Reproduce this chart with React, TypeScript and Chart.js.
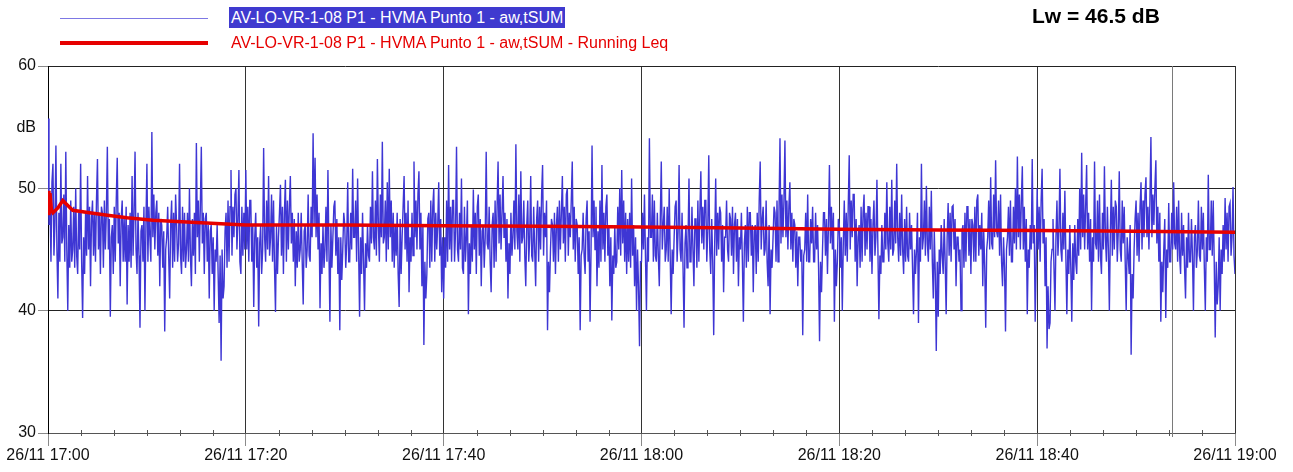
import { useEffect, useRef } from 'react';
import { Chart, registerables } from 'chart.js';

Chart.register(...registerables);

// ---- data ----
const sampleStepSec = 6;
const segmentStartSec = [0, 1200, 2400, 3600, 4800, 6000];

const levels1700 = [
  55.7,47,49,44,50.5, 52,44.5,47,53.5,45, 41,48,44,52,45.5, 46,49.5,44,53,45,
  40,47,43.5,49,44, 45,48.5,43.5,50,44.5, 43,48,45,52,44, 39.4,46,43,48,44.5,
  51,45,48.5,42,47.5, 49,44.5,48,44,49, 52.4,45,48,43,48.5, 48,43.5,49,45,48,
  53.4,45,47.5,39.5,46, 47,43,48.5,44,49, 52.5,45.5,48,42,47.5, 49,44,47.5,44,48.5,
  40.5,47,44,48,43.5, 51,44.5,48,53,45, 43,48,44.5,38.6,46.5, 47,44,48.5,40,47,
  52,44,48.5,46,44, 54.6,46,49.5,45,48, 49,44.5,48,42,47.5, 47,43.5,46.5,38.3,45,
  46,48.5,44.5,41,47, 49,43.5,48,44,49.5, 47,44,45.5,52,44.5, 43,48.5,44,48,43.5,
  45,48,44,50,44.5, 42,47.5,44.5,48,43, 53.7,46,49,44,48.5, 53.4,45.5,48,43,47.5,
  48,44,47,41,46.5, 47,43,46,40,45, 44,47,43,39,44.5, 35.9,45,41,42,46.5,
  48,43.5,49,44,48.5, 51.5,44.5,48.5,46,49.5, 50,45,47.5,51.5,44, 43,48.5,44.5,48,45,
];
const levels1720 = [
  51.5,45,48.5,44,49, 49,44,47,40.3,46, 48,43.5,46,38.7,45.5, 47,43,45,53.3,46,
  44,49,45,51,44.5, 46,49.5,44,49,43.5, 39.9,47,43,46,48, 50.3,44.5,48.5,43,48,
  50.7,44,49,45,48.5, 51,45.5,48,44,47.5, 42,46.5,43.5,48,44, 45,48,44,40.5,46.5,
  47,43.5,45,49.5,44.5, 44,48.5,46,54.5,47, 52.5,46,49.5,45,48, 40.2,45.5,43,47,43.5,
  45,48.5,44,51.5,45, 39.1,47,43.5,46,48.5, 49,44.5,47.5,43,46, 38.4,46,42.5,45,48,
  47,43.5,45.5,50.5,44, 44,48,45,51.6,46, 46,49,44,50.8,45, 39.5,46,43,48,44,
  40,45.5,43.5,47,44.5, 44,48.5,45.5,51.4,46, 45,49,44.5,52.4,47, 44,49.5,46,53.8,45.5,
  46,49,44,50.5,45, 51.6,46,49,44,48, 43.5,47,44.5,48,43, 40.3,47.5,43,46,48.5,
  51,45,48,44,49, 41.5,46,44,48,44.5, 52.2,46,49,45,49.5, 51.4,45,48,42,47,
  37.2,44,41,43,47.5, 48,43.5,49,44,48.5, 50,44,48,45,47, 50.5,44.5,47.5,41.5,46,
];
const levels1740 = [
  41,46,43.5,49,44, 51.9,45,48.5,44,49, 49,44,46.5,53.4,45, 44,48,45,50.8,43.5,
  43,48.5,44,46,49, 39.7,45.5,43,47,44, 49.9,45,48,43,48.5, 49.5,44.5,47.5,42,46.5,
  47,43.5,46,53,45.5, 45,48.5,44,41.5,47, 48,43.5,49,44,48.5, 52.2,45.5,49.5,45,48,
  51,46,48,44,47.5, 41,45.5,43,48,44.5, 46,49,45,53.6,46.5, 45,49.5,44,51.4,45.5,
  46,49,44.5,42,47, 49,44,46,51,44.5, 44,48.5,45,42,47.5, 49,44,48.5,45,49.5,
  51.9,44.5,48,46,49, 38.4,44,41.5,45,47.5, 47,44,48,43,47, 48.5,44,49,45,48,
  51,45.5,48.5,44,49.5, 50,44.5,48,46,49, 52.2,45,48.5,44,47.5, 47,43,46,38.4,44.5,
  45,48,44.5,43,47.5, 49,44,46.5,39.1,45, 53.5,46,49,45,48.5, 42,46.5,43.5,49,44,
  51.9,45,48,44,48.5, 49.5,44.5,47,42,46, 39.2,44.5,43,47,43.5, 44,48.5,45,50,44.5,
  51.5,45.5,49,44,48, 43,47.5,44,48,43.5, 50.8,44.5,47,42,46, 40,45,42,37.1,44,
];
const levels1800 = [
  44,48,45,49.5,44.5, 40,46,44,54.1,46, 46,49.5,44,49,44.5, 44,48,44.5,42,47.5,
  52.2,45,47,48.5,44, 45,48.5,44,50,44.5, 39.7,45,43,46,48.5, 49,44,46.5,51.9,45,
  44,48,43.5,38.6,45.5, 47,43.5,45.5,50.8,44, 44,48.5,45,42,47.5, 47.5,43.5,49,44,48,
  51.4,45.5,48.5,45,49, 49,44,46.5,52.7,45, 43,47.5,44,38,45.5, 50.8,44.5,48,45,48.5,
  48,44,47,41.5,46, 46,49,45,44,48, 47.5,44.5,48.5,43,47, 48,44,47.5,42,46,
  45,48,44,39.1,45.5, 47,43.5,48.5,44,48, 48,44.5,47,41.5,46.5, 47,43,48,44,49,
  52.2,45,47.5,48.5,44.5, 45,49,44,42,47, 39.7,45,43.5,46,48.5, 48,44,49,44,48,
  54.1,45.5,49.5,46,49, 53.9,46,49,45,48.5, 50.5,45,48,44,47.5, 47,43.5,46.5,42,46,
  46,44,45,38,44.5, 45,48,44,49.5,44, 44,47.5,45.5,48.5,44, 44,48,45,47,43.5,
  37.5,44,41.5,45,48, 48,44.5,47.5,43,47, 51.9,45.5,48.5,45,48, 39.1,45,42,44,47.5,
];
const levels1820 = [
  47,43.5,46,40,45.5, 49,44.5,48,44,48.5, 52.7,45,49,46,49.5, 49.5,44,47.5,42,46,
  47,43.5,48.5,44,48, 49.5,44.5,48,45,48.5, 48.5,44,47.5,43,47, 49,44.5,46,50.7,45,
  39.3,44.5,43,47,44, 44,48,45,50.5,45.5, 44,48.5,45,50.7,44.5, 45,49,45.5,52,46,
  44,48,44.5,49.5,45, 43,47.5,44,48.5,44.5, 44,48,45,47,43.5, 39.7,45,43,45,48,
  39,46,44,52,45, 46,49,44.5,50.2,45.5, 44,48.5,45,49.8,44, 41,46.5,43,36.7,44,
  39.5,45,43,47,44.5, 43,47.5,44,39.7,46, 48.8,44.5,48,44,48.5, 48.6,45,47.5,42,46,
  46,44,45,40,46.5, 47,43.5,48,44,48.5, 48.5,44.5,47.5,43,47.5, 47,44,48.5,44,49,
  49.5,44.5,47,45,48, 42,46.5,43.5,38.6,45, 46,49,45,50.9,45.5, 45,49.5,46,52.3,46.5,
  46,49,44.5,49.5,44, 42,46,43.5,38.3,45, 46,48.5,44.5,49,44, 44,48.5,45.5,50,45,
  52.6,46,49.5,45,49, 51.8,45,48.5,44,47.5, 39.7,45,43.5,47,45, 52.4,45.5,47,39.1,44,
];
const levels1840 = [
  50,45,48.5,44,49, 51.6,45.5,47.5,42,46, 36.9,42,38.5,39,44, 45,47.5,43.5,40,46,
  49,44.5,46.5,51.6,45, 44,48,45,49.8,44.5, 39.7,45,43,47,43.5, 39.1,45.5,42.5,47,44,
  43,47.5,44.5,50,45, 52.9,46,49.5,45,48.5, 51.9,45,48,44,47.5, 40,46,44,52.2,45.5,
  45,49,44,49.5,44.5, 43,48,45,51.8,46, 44,48.5,45,40,46.5, 50.7,44.5,48.5,45,49,
  48.5,44,46.5,51.4,45, 44,49,45.5,48.5,44, 40,46,44.5,43,47, 36.4,43,41,45,47.5,
  49,44.5,48,44,48.5, 50.5,45,49,46,49.5, 50.9,46,48.5,45,49, 54.2,46,49.5,47,50,
  52.3,45.5,48.5,44,48, 39.1,44,41.5,45,47.5, 39.4,45,43.5,48.8,44, 44,48,45,50.5,45.5,
  45,48.5,44,49,44.5, 43,48,44.5,47,43.5, 41,46,43.5,48,44, 44,47.5,44.5,40,46,
  47,43.5,45,49,44.5, 44,48.5,45,48,43.5, 40,46,44,51.1,45, 45,49,44.5,49,44,
  37.8,44,40.5,42,46, 40,45,43,47,44, 49.2,45,48,44,48.5, 48.8,44.5,46,50.1,44.5,
  43,
];

const leqMinutes = [0, 0.1, 0.2, 0.35, 0.5, 1.0, 1.5, 2.0, 2.5, 4.2, 6, 8, 10.6, 15, 20, 30, 40, 50, 60, 70, 80, 90, 100, 110, 120];
const leqValues = [49.8, 47.8, 49.6, 48.2, 48.0, 48.4, 49.0, 48.6, 48.2, 48.0, 47.8, 47.6, 47.4, 47.2, 47.0, 47.0, 46.95, 46.9, 46.83, 46.75, 46.65, 46.6, 46.55, 46.5, 46.42];

const xMajorSec = [0, 1200, 2400, 3600, 4800, 6000, 7200];
const xTickLabels = ['26/11 17:00', '26/11 17:20', '26/11 17:40', '26/11 18:00', '26/11 18:20', '26/11 18:40', '26/11 19:00'];
const xMinorStepSec = 200;
const yTickValues = [30, 40, 50, 55, 60];
const yTickLabels = ['30', '40', '50', 'dB', '60'];
const markerSec = 6818;

const seriesName = 'AV-LO-VR-1-08 P1 - HVMA Punto 1 - aw,tSUM';
const leqName = 'AV-LO-VR-1-08 P1 - HVMA Punto 1 - aw,tSUM - Running Leq';
const lwLabel = 'Lw = 46.5 dB';

// ---- styles ----
const FONT = 'Arial, "Liberation Sans", sans-serif';
const BLUE = 'rgb(62,54,212)';
const RED = 'rgb(230,0,0)';

const segments = [levels1700, levels1720, levels1740, levels1800, levels1820, levels1840];
const blueData = segments.flatMap((seg, s) =>
  seg.map((v, i) => ({ x: segmentStartSec[s] + i * sampleStepSec, y: v }))
);
const redData = leqMinutes.map((m, i) => ({ x: m * 60, y: leqValues[i] }));

const isMajor = (v: number) => xMajorSec.includes(v);

const overlayPlugin = {
  id: 'overlay',
  beforeDatasetsDraw(chart: any) {
    const { ctx, chartArea, scales } = chart;
    const x = Math.round(scales.x.getPixelForValue(markerSec)) + 0.5;
    ctx.save();
    ctx.strokeStyle = '#7a7a7a';
    ctx.lineWidth = 1;
    ctx.beginPath();
    ctx.moveTo(x, chartArea.top);
    ctx.lineTo(x, chartArea.bottom + 4);
    ctx.stroke();
    ctx.restore();
  },
  afterDraw(chart: any) {
    const { ctx, chartArea, scales } = chart;
    ctx.save();
    ctx.strokeStyle = '#555';
    ctx.lineWidth = 1;
    for (let t = 0; t <= 7200; t += xMinorStepSec) {
      if (isMajor(t)) continue;
      const x = Math.round(scales.x.getPixelForValue(t)) + 0.5;
      ctx.beginPath();
      ctx.moveTo(x, chartArea.bottom - 3);
      ctx.lineTo(x, chartArea.bottom + 3);
      ctx.stroke();
    }
    ctx.restore();
  },
};

export default function App() {
  const ref = useRef<HTMLCanvasElement>(null);

  useEffect(() => {
    const chart = new Chart(ref.current!, {
      type: 'line',
      data: {
        datasets: [
          {
            label: leqName,
            data: redData,
            borderColor: RED,
            borderWidth: 3.5,
            pointRadius: 0,
            tension: 0,
            order: 0,
          },
          {
            label: seriesName,
            data: blueData,
            borderColor: BLUE,
            borderWidth: 1.4,
            pointRadius: 0,
            tension: 0,
            order: 1,
          },
        ],
      },
      options: {
        responsive: false,
        devicePixelRatio: 1,
        animation: false,
        layout: { padding: { top: 66, right: 58, left: 0, bottom: 0 } },
        plugins: { legend: { display: false }, tooltip: { enabled: false } },
        scales: {
          x: {
            type: 'linear',
            min: 0,
            max: 7200,
            afterBuildTicks: (s: any) => {
              const ticks = [];
              for (let t = 0; t <= 7200; t += xMinorStepSec) ticks.push({ value: t });
              s.ticks = ticks;
            },
            afterFit: (s: any) => { s.height = 39; },
            ticks: {
              autoSkip: false,
              maxRotation: 0,
              minRotation: 0,
              padding: 0,
              color: '#111',
              font: { family: FONT, size: 16 },
              callback: (v: any) => {
                const i = xMajorSec.indexOf(Number(v));
                return i >= 0 ? xTickLabels[i] : '';
              },
            },
            grid: {
              color: (c: any) => (c.tick && isMajor(c.tick.value) ? '#333' : 'rgba(0,0,0,0)'),
              tickColor: (c: any) => (c.tick && isMajor(c.tick.value) ? '#8a8a8a' : 'rgba(0,0,0,0)'),
              tickLength: 13,
              lineWidth: 1,
            },
            border: { color: '#555', width: 1 },
          },
          y: {
            type: 'linear',
            min: 30,
            max: 60,
            afterBuildTicks: (s: any) => { s.ticks = yTickValues.map((v) => ({ value: v })); },
            afterFit: (s: any) => { s.width = 48; },
            ticks: {
              padding: 2,
              color: '#111',
              font: { family: FONT, size: 16 },
              callback: (v: any) => {
                const i = yTickValues.indexOf(Number(v));
                return i >= 0 ? yTickLabels[i] : '';
              },
            },
            grid: {
              color: (c: any) => (c.tick && c.tick.value === 55 ? 'rgba(0,0,0,0)' : '#222'),
              tickColor: (c: any) => (c.tick && c.tick.value === 55 ? 'rgba(0,0,0,0)' : '#8a8a8a'),
              tickLength: 10,
              lineWidth: 1,
            },
            border: { color: '#000', width: 1 },
          },
        },
      },
      plugins: [overlayPlugin],
    } as any);
    return () => chart.destroy();
  }, []);

  return (
    <div style={{ position: 'absolute', left: 0, top: 0, width: 1293, height: 472, background: '#fff', fontFamily: FONT }}>
      <canvas ref={ref} width={1293} height={472} style={{ position: 'absolute', left: 0, top: 0, width: 1293, height: 472 }} />
      <div style={{ position: 'absolute', left: 60, top: 18, width: 148, height: 1, background: '#7d78e4' }} />
      <div style={{ position: 'absolute', left: 229, top: 7, height: 21, lineHeight: '21px', padding: '0 2px', background: '#3f3acf', color: '#fff', fontSize: 16, whiteSpace: 'nowrap' }}>{seriesName}</div>
      <div style={{ position: 'absolute', left: 60, top: 41, width: 148, height: 4, background: RED }} />
      <div style={{ position: 'absolute', left: 231, top: 32, height: 21, lineHeight: '21px', color: RED, fontSize: 16, whiteSpace: 'nowrap' }}>{leqName}</div>
      <div style={{ position: 'absolute', left: 1032, top: 4, lineHeight: '24px', fontSize: 21, fontWeight: 'bold', color: '#000', whiteSpace: 'nowrap' }}>{lwLabel}</div>
    </div>
  );
}
